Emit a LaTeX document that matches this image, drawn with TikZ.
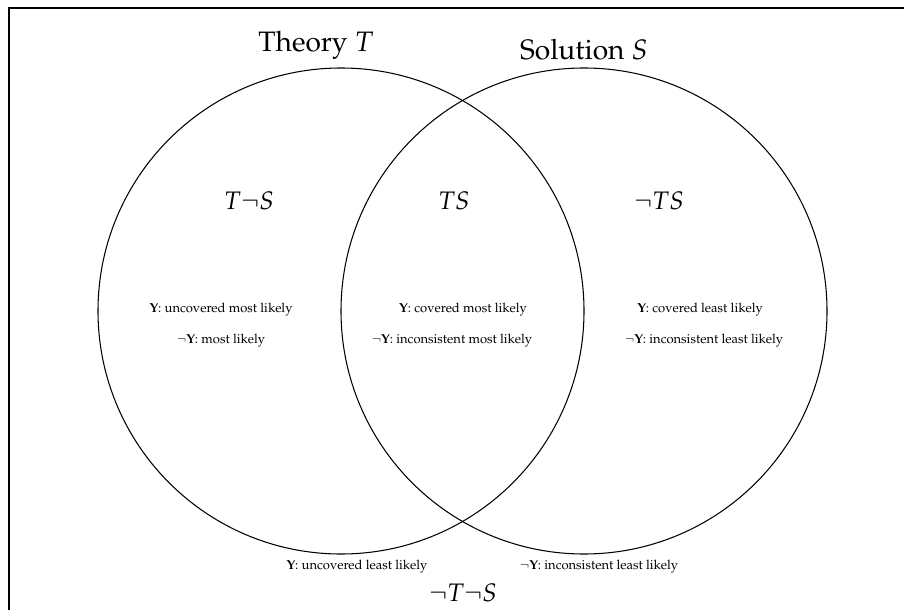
\documentclass[tikz,border=0pt]{standalone}
\usepackage{amsmath,amssymb}
\usepackage[T1]{fontenc}
\usepackage{mathpazo}
\usepackage{tikz}
\usetikzlibrary{shapes,calc}

\begin{document}
\begin{tikzpicture}[thick,
  setcirc/.style={draw, circle, semithick, minimum size=9.72cm, inner sep=0pt},
  setname/.style={font=\fontsize{16}{19}\selectfont},
  region/.style={font=\Large},
  note/.style={font=\fontsize{7.4}{9}\selectfont}]
\useasboundingbox (0,0) rectangle (18.08,12.2);
\draw[semithick] (0.18,0) -- (0.18,12.04) -- (18.08,12.04);
\node (T) at (6.82,5.98) [setcirc] {};
\node (S) at (11.68,5.98) [setcirc] {};
\node (nT) at (6.32,11.30) [setname] {Theory $T$};
\node (nS) at (11.68,11.20) [setname] {Solution $S$};
\node (TnS) at (4.98,8.18) [region] {$T\neg S$};
\node (TS) at (9.08,8.18) [region] {$TS$};
\node (nTS) at (13.18,8.18) [region] {$\neg TS$};
\node (nTnS) at (9.26,0.34) [region] {$\neg T\neg S$};
\node (a1) at (4.42,6.00) [note] {\textbf{Y}: uncovered most likely};
\node (a2) at (4.42,5.38) [note] {$\neg$\textbf{Y}: most likely};
\node (b1) at (9.26,6.00) [note] {\textbf{Y}: covered most likely};
\node (b2) at (9.04,5.38) [note] {$\neg$\textbf{Y}: inconsistent most likely};
\node (c1) at (14.00,6.00) [note] {\textbf{Y}: covered least likely};
\node (c2) at (14.08,5.38) [note] {$\neg$\textbf{Y}: inconsistent least likely};
\node (d1) at (7.14,0.86) [note] {\textbf{Y}: uncovered least likely};
\node (d2) at (11.98,0.86) [note] {$\neg$\textbf{Y}: inconsistent least likely};
\end{tikzpicture}
\end{document}
